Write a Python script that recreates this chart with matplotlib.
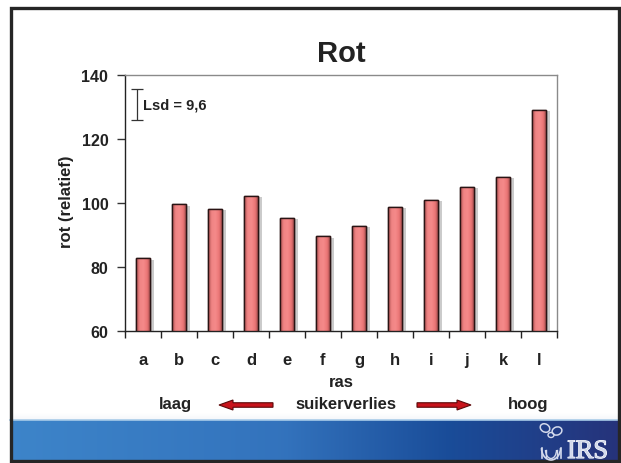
import numpy as np
import matplotlib
matplotlib.use("Agg")
import matplotlib.pyplot as plt
from matplotlib.patches import Rectangle, FancyArrow, Ellipse, Arc
from matplotlib.colors import LinearSegmentedColormap
import matplotlib.patheffects as pe

plt.rcParams['font.family'] = ['Liberation Sans', 'DejaVu Sans']
plt.rcParams['font.weight'] = 'bold'

# ---- data ----
categories = ['a', 'b', 'c', 'd', 'e', 'f', 'g', 'h', 'i', 'j', 'k', 'l']
rot_values = [82.7, 99.5, 98.1, 102.2, 95.3, 89.5, 92.8, 98.8, 100.9, 105.0, 108.2, 129.1]
yticks = [60, 80, 100, 120, 140]
lsd_low, lsd_high = 126.0, 135.6
lsd_label = 'Lsd = 9,6'
title = 'Rot'
ylabel = 'rot (relatief)'
xlabel = 'ras'
bottom_texts = ['laag', 'suikerverlies', 'hoog']

W, H = 621, 464
fig = plt.figure(figsize=(W / 100, H / 100), dpi=100)
TXT = '#222222'

# ---- background slide (pixel coordinates) ----
bg = fig.add_axes([0, 0, 1, 1], zorder=-5)
bg.set_xlim(0, W)
bg.set_ylim(H, 0)
bg.axis('off')

# blue gradient footer band
band_cmap = LinearSegmentedColormap.from_list('band', [
    (0.0, (0.24, 0.52, 0.79)),
    (0.45, (0.20, 0.45, 0.74)),
    (0.72, (0.10, 0.30, 0.60)),
    (1.0, (0.15, 0.20, 0.48))])
grad = np.linspace(0, 1, 256).reshape(1, -1)
bg.imshow(grad, cmap=band_cmap, extent=[10, 620, 461, 421.5], aspect='auto', zorder=1)
bg.plot([10, 620], [421.2, 421.2], color='#a8cbe8', lw=1.2, zorder=2)
bg.imshow(np.linspace(0, 1, 20).reshape(-1, 1), cmap=LinearSegmentedColormap.from_list(
    'fade', ['white', '#f6f8fb']), extent=[10, 620, 420.5, 415], aspect='auto', zorder=1)
# frame
bg.add_patch(Rectangle((11, 8.5), 608, 453, fill=False, edgecolor='#262626', lw=2.4, zorder=3))

# logo
LOGO = '#d2d9ec'
bg.text(608, 459, 'IRS', family='Liberation Serif', fontsize=19, fontweight='normal',
        color=LOGO, ha='right', va='baseline', zorder=4,
        path_effects=[pe.withStroke(linewidth=0.8, foreground='#ffffff')])
bg.add_patch(Arc((551, 449), 19, 24, theta1=0, theta2=180, edgecolor=LOGO, lw=1.2, zorder=4))
bg.plot([541.5, 541.5], [449, 459], color=LOGO, lw=1.2, zorder=4)
bg.plot([560.5, 560.5], [449, 459], color=LOGO, lw=1.2, zorder=4)
bg.add_patch(Arc((551, 451), 11, 17, theta1=0, theta2=180, edgecolor=LOGO, lw=1.0, zorder=4))
bg.plot([545.5, 545.5], [451, 459], color=LOGO, lw=1.0, zorder=4)
bg.plot([556.5, 556.5], [451, 459], color=LOGO, lw=1.0, zorder=4)
bg.add_patch(Ellipse((545, 429), 10, 8, angle=30, fill=False, edgecolor=LOGO, lw=1.1, zorder=4))
bg.add_patch(Ellipse((557, 432), 10, 8, angle=-20, fill=False, edgecolor=LOGO, lw=1.1, zorder=4))
bg.add_patch(Ellipse((551, 436), 6, 5, fill=False, edgecolor=LOGO, lw=1.0, zorder=4))

# arrows
arrow_kw = dict(width=4.5, head_width=10, head_length=14, length_includes_head=True,
                facecolor='#c8141c', edgecolor='#5a0a0a', lw=0.8, zorder=4)
bg.add_patch(FancyArrow(273, 406, -54, 0, **arrow_kw))
bg.add_patch(FancyArrow(417, 406, 54, 0, **arrow_kw))

# ---- main chart ----
L, R, T, B = 125, 557, 75.7, 332
ax = fig.add_axes([L / W, (H - B) / H, (R - L) / W, (B - T) / H])
x = np.arange(len(categories))
bars = ax.bar(x, np.array(rot_values) - 60, bottom=60, width=0.4,
              color='#ee7a7a', edgecolor='#2a1414', lw=1.0, zorder=3,
              path_effects=[pe.SimplePatchShadow(offset=(2.5, -1), shadow_rgbFace='#999999', alpha=0.5),
                            pe.Normal()])
bar_cmap = LinearSegmentedColormap.from_list('bar', [
    (0.0, '#a84c4c'), (0.25, '#f08484'), (0.5, '#f58a8a'), (0.75, '#ea7676'), (1.0, '#8e3e3e')])
for b in bars:
    x0, y0, w, h = b.get_x(), b.get_y(), b.get_width(), b.get_height()
    im = ax.imshow(grad, cmap=bar_cmap, extent=[x0, x0 + w, y0, y0 + h], aspect='auto', zorder=3.5)
    im.set_clip_path(b)
    ax.add_patch(Rectangle((x0, y0), w, h, fill=False, edgecolor='#2a1414', lw=1.0, zorder=4))

ax.set_xlim(-0.5, len(categories) - 0.5)
ax.set_ylim(60, 140)
ax.set_yticks(yticks)
ax.set_yticklabels([str(v) for v in yticks], fontsize=11.5, color=TXT, fontweight='bold')
ax.set_xticks(x)
ax.set_xticklabels(categories, fontsize=12, color=TXT, fontweight='bold')
ax.set_xticks(np.arange(-0.5, len(categories)), minor=True)
ax.tick_params(axis='x', which='major', length=0, pad=15)
ax.tick_params(axis='x', which='minor', length=5, direction='out', color='#222', width=1)
ax.tick_params(axis='y', length=6, direction='out', color='#333', width=1, pad=6)
for s in ['left', 'bottom']:
    ax.spines[s].set_color('#222222')
    ax.spines[s].set_linewidth(1.0)
for s in ['top', 'right']:
    ax.spines[s].set_color('#8a8a8a')
    ax.spines[s].set_linewidth(1.0)
ax.set_facecolor('white')

# Lsd bar
lsd_x = -0.175
ax.errorbar([lsd_x], [(lsd_low + lsd_high) / 2], yerr=[[(lsd_high - lsd_low) / 2]],
            fmt='none', ecolor='#333333', elinewidth=0.9, capsize=4, capthick=0.9, zorder=5)
ax.text(-0.01, (lsd_low + lsd_high) / 2, lsd_label, fontsize=10.5, fontweight='bold',
        color=TXT, ha='left', va='center')

ax.set_title(title, fontsize=21, fontweight='bold', color=TXT, pad=10)

# labels in figure pixel positions
def fx(px):
    return px / W

def fy(py):
    return 1 - py / H

fig.text(fx(67), fy(201.7), ylabel, rotation=90, ha='center', va='center',
         fontsize=12, fontweight='bold', color=TXT)
fig.text(fx(341), fy(382.5), xlabel, ha='center', va='center', fontsize=12,
         fontweight='bold', color=TXT)
fig.text(fx(175), fy(405), bottom_texts[0], ha='center', va='center', fontsize=12,
         fontweight='bold', color=TXT)
fig.text(fx(345.5), fy(405), bottom_texts[1], ha='center', va='center', fontsize=12,
         fontweight='bold', color=TXT)
fig.text(fx(528), fy(405), bottom_texts[2], ha='center', va='center', fontsize=12,
         fontweight='bold', color=TXT)

fig.savefig('out.png', dpi=100, facecolor='white')
